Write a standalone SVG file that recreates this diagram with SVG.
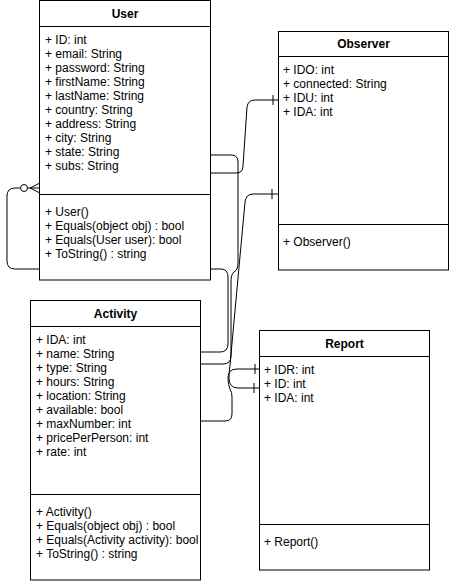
<svg xmlns="http://www.w3.org/2000/svg" width="450" height="584" viewBox="0 0 450 584">
<style>
.box{fill:#fff;stroke:#000;stroke-width:1}
.ln{fill:none;stroke:#000;stroke-width:1}
.t{font-family:"Liberation Sans",Arial,sans-serif;font-size:12px;fill:#000}
.h{font-family:"Liberation Sans",Arial,sans-serif;font-size:12px;font-weight:bold;fill:#000;text-anchor:middle}
</style>
<rect width="450" height="584" fill="#fff"/>
<g id="connectors">
  <path class="ln" d="M20.5,188 H15 Q7,188 7,196 V261 Q7,269 15,269 H221 Q228,269 228,277 V344 Q228,352 220,352 H200"/>
  <path class="ln" d="M210,155 H231 Q238,155 238,162 V262 Q238,270 234,272 Q231,274 231,282 V356 Q231,364 223,364 H200"/>
  <path class="ln" d="M210,173 H236 Q243,173 243,166 L247,107 Q248,100 255,100 H278"/>
  <path class="ln" d="M273,95 V105"/>
  <path class="ln" d="M278,194 H253 Q246,194 245,202 L230,365 Q229,372 229,378 Q229,388 238,388 H259"/>
  <path class="ln" d="M272,189 V199"/>
  <path class="ln" d="M200,421 H225 Q232,421 232,414 V397 Q232,392 230,389 Q228,385 228,378 Q228,369 237,369 H259"/>
  <path class="ln" d="M255,364 V374 M254,383 V393"/>
  <circle cx="24" cy="188" r="3.5" fill="#fff" stroke="#000"/>
  <path class="ln" d="M27.5,188 H39 M30,188 L39,183.5 M30,188 L39,192.5"/>
</g>
<g id="user">
  <rect class="box" x="39.5" y="0.5" width="171" height="279.5"/>
  <path class="ln" d="M39.5,26.5 H210.5 M39.5,194.5 H210.5"/>
  <text class="h" x="125" y="18">User</text>
  <text class="t" x="45" y="44">+ ID: int</text>
  <text class="t" x="45" y="58">+ email: String</text>
  <text class="t" x="45" y="72">+ password: String</text>
  <text class="t" x="45" y="86">+ firstName: String</text>
  <text class="t" x="45" y="100">+ lastName: String</text>
  <text class="t" x="45" y="114">+ country: String</text>
  <text class="t" x="45" y="128">+ address: String</text>
  <text class="t" x="45" y="142">+ city: String</text>
  <text class="t" x="45" y="156">+ state: String</text>
  <text class="t" x="45" y="170">+ subs: String</text>
  <text class="t" x="45" y="216">+ User()</text>
  <text class="t" x="45" y="230">+ Equals(object obj) : bool</text>
  <text class="t" x="45" y="244">+ Equals(User user): bool</text>
  <text class="t" x="45" y="258">+ ToString() : string</text>
</g>
<g id="observer">
  <rect class="box" x="278.5" y="31.5" width="170" height="238.5"/>
  <path class="ln" d="M278.5,56.5 H448.5 M278.5,224.5 H448.5"/>
  <text class="h" x="363.5" y="48">Observer</text>
  <text class="t" x="283" y="74">+ IDO: int</text>
  <text class="t" x="283" y="88">+ connected: String</text>
  <text class="t" x="283" y="102">+ IDU: int</text>
  <text class="t" x="283" y="116">+ IDA: int</text>
  <text class="t" x="283" y="246">+ Observer()</text>
</g>
<g id="activity">
  <rect class="box" x="30.5" y="300.5" width="170" height="279.5"/>
  <path class="ln" d="M30.5,326.5 H200.5 M30.5,494.5 H200.5"/>
  <text class="h" x="115.5" y="318">Activity</text>
  <text class="t" x="36" y="344">+ IDA: int</text>
  <text class="t" x="36" y="358">+ name: String</text>
  <text class="t" x="36" y="372">+ type: String</text>
  <text class="t" x="36" y="386">+ hours: String</text>
  <text class="t" x="36" y="400">+ location: String</text>
  <text class="t" x="36" y="414">+ available: bool</text>
  <text class="t" x="36" y="428">+ maxNumber: int</text>
  <text class="t" x="36" y="442">+ pricePerPerson: int</text>
  <text class="t" x="36" y="456">+ rate: int</text>
  <text class="t" x="36" y="516">+ Activity()</text>
  <text class="t" x="36" y="530">+ Equals(object obj) : bool</text>
  <text class="t" x="36" y="544">+ Equals(Activity activity): bool</text>
  <text class="t" x="36" y="558">+ ToString() : string</text>
</g>
<g id="report">
  <rect class="box" x="259.5" y="330.5" width="170" height="239.5"/>
  <path class="ln" d="M259.5,356.5 H429.5 M259.5,524.5 H429.5"/>
  <text class="h" x="344.5" y="348">Report</text>
  <text class="t" x="264" y="374">+ IDR: int</text>
  <text class="t" x="264" y="388">+ ID: int</text>
  <text class="t" x="264" y="402">+ IDA: int</text>
  <text class="t" x="264" y="546">+ Report()</text>
</g>
</svg>
